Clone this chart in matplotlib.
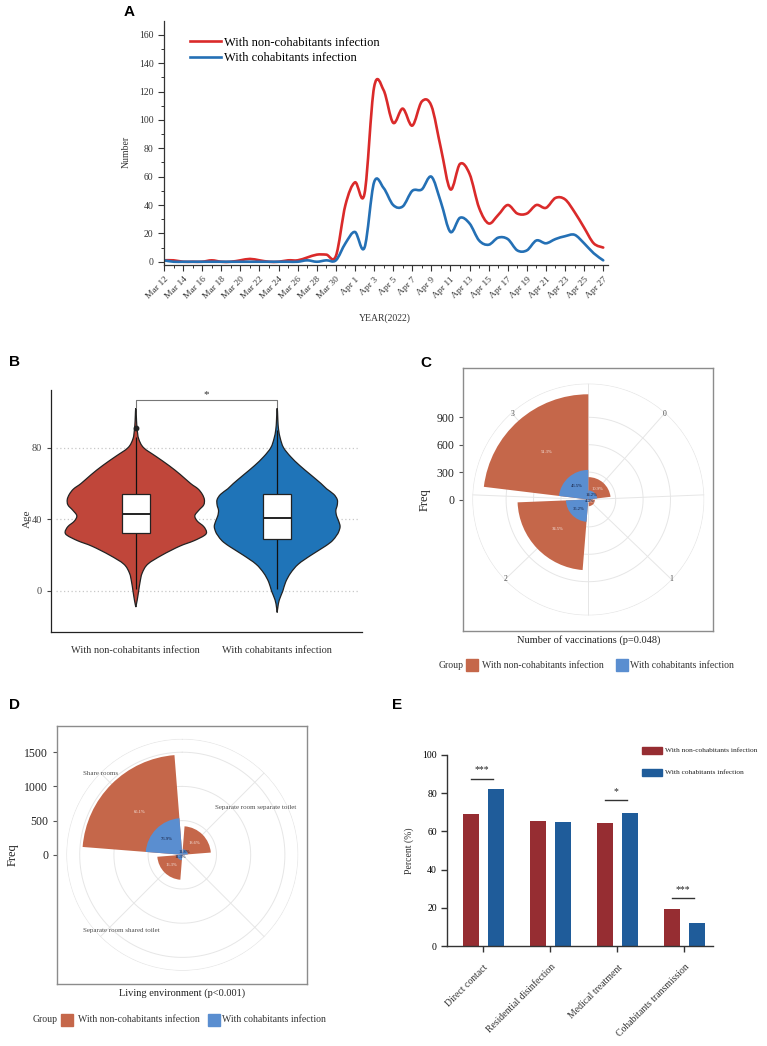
import numpy as np
import matplotlib
matplotlib.use("Agg")
import matplotlib.pyplot as plt
from matplotlib.path import Path
from matplotlib.patches import PathPatch, Rectangle
from matplotlib.lines import Line2D

SERIF = ["Liberation Serif", "DejaVu Serif"]
SANS = ["Liberation Sans", "DejaVu Sans"]
plt.rcParams["font.family"] = SERIF

# ---------------- data ----------------
dates_A = [f"Mar {d}" for d in range(12, 32)] + [f"Apr {d}" for d in range(1, 28)]
non_cohab_daily = [1, 1, 0, 0, 0, 1, 0, 0, 1, 2, 1, 0, 0, 1, 1,
                   3, 5, 5, 4, 40, 56, 48, 123, 121, 98, 108, 96, 113, 110,
                   80, 51, 69, 62, 38, 27, 33, 40, 34, 34, 40, 38, 45, 44,
                   35, 24, 13, 10]
cohab_daily = [1, 0, 0, 0, 0, 0, 0, 0, 0, 0, 0, 0, 0, 0, 0,
               1, 0, 1, 1, 13, 21, 10, 56, 52, 40, 39, 50, 51, 60,
               42, 21, 31, 27, 15, 12, 17, 16, 8, 8, 15, 13, 16, 18,
               19, 13, 6, 1]
series_names = ["With non-cohabitants infection", "With cohabitants infection"]

groups_B = ["With non-cohabitants infection", "With cohabitants infection"]
ages_nonco = [-9, -5, 0, 5, 10, 15, 20, 25, 28, 31, 33, 36, 39, 42, 45, 48, 51, 54,
              57, 60, 65, 70, 75, 80, 85, 90, 95, 100, 102]
dens_nonco = [0, 0.02, 0.04, 0.06, 0.09, 0.17, 0.37, 0.62, 0.82, 0.97, 1.0, 0.96,
              0.87, 0.835, 0.89, 0.96, 0.97, 0.94, 0.88, 0.775, 0.63, 0.47, 0.29,
              0.11, 0.04, 0.02, 0.01, 0.005, 0]
ages_co = [-12, -9, -5, 0, 5, 10, 15, 20, 25, 28, 31, 33, 36, 39, 42, 45, 48, 51,
           54, 57, 60, 65, 70, 75, 80, 85, 90, 95, 100, 102]
dens_co = [0, 0.01, 0.03, 0.08, 0.12, 0.19, 0.30, 0.48, 0.68, 0.78, 0.84, 0.87,
           0.89, 0.87, 0.84, 0.83, 0.85, 0.85, 0.80, 0.70, 0.62, 0.47, 0.32, 0.19,
           0.09, 0.045, 0.02, 0.01, 0.005, 0]
box_q1 = [32.2, 29.0]
box_med = [43.2, 41.0]
box_q3 = [54.0, 54.0]
whisk_lo = [1, 1]
whisk_hi = [86, 90]
outliers_nonco = [91]

vacc_cats = ["0", "1", "2", "3"]
vacc_nonco = [245, 74, 775, 1152]
vacc_co = [99, 29, 245, 324]

living_cats = ["Separate room separate toilet", "", "Separate room shared toilet", "Share rooms"]
living_nonco = [418, 0, 366, 1462]
living_co = [82, 0, 79, 536]

measures_E = ["Direct contact", "Residential disinfection", "Medical treatment",
              "Cohabitants transmission"]
pct_nonco = [69.0, 65.6, 64.2, 19.5]
pct_co = [82.4, 64.8, 69.6, 11.9]
sig_E = ["***", "", "*", "***"]
sig_y_E = [87.6, None, 76.4, 25.1]

# ---------------- helpers ----------------
W, H = 767, 1046
fig = plt.figure(figsize=(W / 100, H / 100), dpi=100)


def rect(l, t, r, b):
    return [l / W, 1 - b / H, (r - l) / W, (b - t) / H]


def smooth_path(xs, ys):
    pts = np.column_stack([np.asarray(xs, float), np.asarray(ys, float)])
    n = len(pts)
    verts = [pts[0]]
    codes = [Path.MOVETO]
    for i in range(n - 1):
        p0 = pts[i - 1] if i > 0 else pts[i]
        p1, p2 = pts[i], pts[i + 1]
        p3 = pts[i + 2] if i + 2 < n else pts[i + 1]
        verts += [p1 + (p2 - p0) / 6, p2 - (p3 - p1) / 6, p2]
        codes += [Path.CURVE4] * 3
    return Path(verts, codes)


def panel_letter(x, y, s):
    fig.text(x / W, 1 - y / H, s, family=SANS, weight="bold", fontsize=11,
             ha="left", va="center")


# ---------------- Panel A ----------------
axA = fig.add_axes(rect(164, 20.7, 608, 265))
days = np.arange(len(dates_A))
colA = ["#DA2A2A", "#2470B5"]
for vals, c in zip([non_cohab_daily, cohab_daily], colA):
    axA.add_patch(PathPatch(smooth_path(days, vals), fill=False, edgecolor=c,
                            lw=1.9, capstyle="round", joinstyle="round"))
axA.set_xlim(0, 46.5)
axA.set_ylim(-2.3, 170)
axA.spines[["top", "right"]].set_visible(False)
for s in ["left", "bottom"]:
    axA.spines[s].set_linewidth(0.9)
    axA.spines[s].set_color("#333333")
axA.set_yticks(np.arange(0, 161, 20))
axA.set_yticks(np.arange(0, 170, 10), minor=True)
axA.set_xticks(days[::2])
axA.set_xticklabels(dates_A[::2], rotation=45, ha="right", va="top",
                    rotation_mode="anchor", fontsize=6.8, color="#333333")
axA.set_xticks(days, minor=True)
axA.tick_params(axis="both", which="major", direction="out", length=4, width=0.8,
                color="#333333")
axA.tick_params(axis="both", which="minor", direction="out", length=2.2, width=0.7,
                color="#333333")
axA.tick_params(axis="y", labelsize=7, labelcolor="#333333")
handles = [Line2D([], [], color=c, lw=1.9) for c in colA]
axA.legend(handles, series_names, loc="upper left", bbox_to_anchor=(0.058, 0.935),
           frameon=False, fontsize=9, handlelength=2.5, handletextpad=0.25,
           labelspacing=0.3, borderpad=0, borderaxespad=0)
fig.text(126 / W, 1 - 152 / H, "Number", rotation=90, ha="center", va="center",
         fontsize=7, color="#333333")
fig.text(385 / W, 1 - 318 / H, "YEAR(2022)", ha="center", va="center",
         fontsize=7, color="#333333")
panel_letter(124, 12, "A")

# ---------------- Panel B ----------------
axB = fig.add_axes(rect(51, 390, 362, 632))
axB.set_xlim(0.4, 2.6)
axB.set_ylim(-22.9, 112.2)
for yv in [0, 40, 80]:
    axB.axhline(yv, xmin=0.015, xmax=0.99, color="#C8C8C8", lw=0.9,
                ls=(0, (1, 2)), zorder=0)
colB = ["#C0463A", "#1F74B8"]
half = 0.5
for i, (ag, dn, c) in enumerate([(ages_nonco, dens_nonco, colB[0]),
                                 (ages_co, dens_co, colB[1])]):
    cx = i + 1
    ag = np.asarray(ag, float)
    dn = np.asarray(dn, float) * half
    xs = np.concatenate([cx + dn, (cx - dn)[::-1][1:]])
    ys = np.concatenate([ag, ag[::-1][1:]])
    axB.add_patch(PathPatch(smooth_path(xs, ys), facecolor=c, edgecolor="#222222",
                            lw=0.9, zorder=2))
    axB.vlines(cx, whisk_lo[i], box_q1[i], color="#111111", lw=0.9, zorder=3)
    axB.vlines(cx, box_q3[i], whisk_hi[i], color="#111111", lw=0.9, zorder=3)
axB.bar([1, 2], np.array(box_q3) - np.array(box_q1), bottom=box_q1, width=0.2,
        color="white", edgecolor="#222222", lw=0.9, zorder=4)
axB.hlines(box_med, [0.9, 1.9], [1.1, 2.1], color="#222222", lw=1.4, zorder=5)
axB.plot([1] * len(outliers_nonco), outliers_nonco, "o", color="#222222",
         ms=3.2, zorder=5)
axB.plot([1, 1, 2, 2], [102.8, 106.6, 106.6, 102.8], color="#777777", lw=0.8,
         clip_on=False)
axB.text(1.5, 109.5, "*", ha="center", va="center", fontsize=8, color="#333333",
         clip_on=False)
axB.spines[["top", "right"]].set_visible(False)
for s in ["left", "bottom"]:
    axB.spines[s].set_linewidth(0.9)
    axB.spines[s].set_color("#222222")
axB.set_yticks([0, 40, 80])
axB.set_xticks([1, 2])
axB.set_xticklabels(groups_B, fontsize=7.5, color="#333333")
axB.tick_params(axis="y", labelsize=7.5, labelcolor="#444444", length=3,
                color="#444444")
axB.tick_params(axis="x", length=0, pad=10)
fig.text(27 / W, 1 - 519 / H, "Age", rotation=90, ha="center", va="center",
         fontsize=8, color="#333333")
panel_letter(9, 362, "B")

# ---------------- Panels C & D (rose charts) ----------------
ROSE_RED = "#C5674A"
ROSE_BLUE = "#5A8ED0"
GRID = "#E6E6E6"


def rose(frame_px, center_px, R_px, rmax, cats, nonco, co, lo, hi, rings, yticks,
         minor, label_spec, xlabel, xlabel_y, label_fs):
    l, t, r, b = frame_px
    cx, cy = center_px
    s = R_px / rmax
    axf = fig.add_axes(rect(l, t, r, b))
    axf.set_xlim(0, 1)
    axf.set_ylim((cy - b) / s, (cy - t) / s)
    axf.set_xticks([])
    axf.set_yticks(yticks)
    axf.tick_params(axis="y", labelsize=8.5, labelcolor="#222222", length=3,
                    color="#555555", width=0.8)
    for sp in axf.spines.values():
        sp.set_color("#8C8C8C")
        sp.set_linewidth(1.0)
    axf.set_ylabel("Freq", fontsize=9, color="#222222", labelpad=4)

    axp = fig.add_axes(rect(cx - R_px, cy - R_px, cx + R_px, cy + R_px),
                       projection="polar")
    axp.set_theta_zero_location("N")
    axp.set_theta_direction(-1)
    axp.set_ylim(0, rmax)
    axp.set_axis_off()
    n = len(cats)
    xpos = np.arange(1, n + 1)
    span = hi - lo
    th = (xpos - lo) / span * 2 * np.pi
    wd = 0.9 / span * 2 * np.pi
    tf = np.linspace(0, 2 * np.pi, 400)
    for rr in rings + [rmax * 0.998]:
        axp.plot(tf, np.full_like(tf, rr), color=GRID, lw=0.7, zorder=0)
    radial = list(th)
    if minor:
        radial += list((np.array([lo, 1.5, 2.5, 3.5]) - lo) / span * 2 * np.pi)
    for a in radial:
        axp.plot([a, a], [0, rmax], color=GRID, lw=0.7, zorder=0)
    for k, (cat, spec) in enumerate(zip(cats, label_spec)):
        if cat == "":
            continue
        ang, rf = spec
        a = th[k] if ang is None else np.deg2rad(ang)
        axp.text(a, rf * rmax, cat, ha="center", va="center", fontsize=label_fs,
                 color="#4D4D4D", zorder=1)
    axp.bar(th, nonco, width=wd, bottom=0, color=ROSE_RED, zorder=2,
            align="center", linewidth=0)
    axp.bar(th, co, width=wd, bottom=0, color=ROSE_BLUE, zorder=3,
            align="center", linewidth=0)
    tot_n, tot_c = sum(nonco), sum(co)
    for k in range(n):
        if nonco[k] > 0:
            axp.text(th[k], nonco[k] * 0.6 if nonco[k] > co[k] * 1.8 else nonco[k] * 0.9,
                     f"{nonco[k] / tot_n * 100:.1f}%", ha="center", va="center",
                     fontsize=3.3, color="#F4E6E0", zorder=4)
        if co[k] > 0:
            axp.text(th[k], co[k] * 0.6, f"{co[k] / tot_c * 100:.1f}%",
                     ha="center", va="center", fontsize=3.3, color="#141b3a",
                     zorder=5)
    fig.text(cx / W, 1 - xlabel_y / H, xlabel, ha="center", va="center",
             fontsize=7.5, color="#222222")


def group_legend(y, gx, sq1, t1, sq2, t2):
    fig.text(gx / W, 1 - y / H, "Group", ha="left", va="center", fontsize=7,
             color="#333333")
    for xs, c in [(sq1, ROSE_RED), (sq2, ROSE_BLUE)]:
        fig.add_artist(Rectangle((xs / W, 1 - (y + 6) / H), 12 / W, 12 / H,
                                 transform=fig.transFigure, color=c))
    fig.text(t1 / W, 1 - y / H, series_names[0], ha="left", va="center",
             fontsize=7, color="#333333")
    fig.text(t2 / W, 1 - y / H, series_names[1], ha="left", va="center",
             fontsize=7, color="#333333")


rose((463.3, 367.7, 713.3, 630.7), (588.3, 499.5), 116, 1270, vacc_cats,
     vacc_nonco, vacc_co, 0.55, 4.45, [300, 600, 900], [0, 300, 600, 900], True,
     [(None, 0.99)] * 4, "Number of vaccinations (p=0.048)", 640, 5.5)
group_legend(665, 439, 466, 482, 616, 630)
panel_letter(420, 363, "C")

rose((57.3, 725.7, 307.3, 984), (182.3, 854.8), 116, 1696, living_cats,
     living_nonco, living_co, 0.5, 4.5, [500, 1000, 1500], [0, 500, 1000, 1500],
     False, [(57, 0.75), (None, 1.0), (219, 0.836), (315, 0.995)],
     "Living environment (p<0.001)", 993, 5)
group_legend(1020, 33, 61, 78, 208, 222)
panel_letter(9, 705, "D")

# ---------------- Panel E ----------------
axE = fig.add_axes(rect(447.3, 755, 713.3, 946))
xE = np.arange(len(measures_E))
colE = ["#962D32", "#1F5C9A"]
axE.bar(xE - 0.185, pct_nonco, width=0.25, color=colE[0])
axE.bar(xE + 0.185, pct_co, width=0.25, color=colE[1])
for i, (lab, yv) in enumerate(zip(sig_E, sig_y_E)):
    if lab:
        axE.plot([i - 0.19, i + 0.14], [yv, yv], color="#333333", lw=1.0)
        axE.text(i - 0.03, yv + 2.2, lab, ha="center", va="bottom", fontsize=7,
                 color="#222222")
axE.set_xlim(-0.54, 3.43)
axE.set_ylim(0, 100)
axE.spines[["top", "right"]].set_visible(False)
for s in ["left", "bottom"]:
    axE.spines[s].set_linewidth(1.0)
    axE.spines[s].set_color("#333333")
axE.set_yticks(np.arange(0, 101, 20))
axE.set_xticks(xE)
axE.set_xticklabels(measures_E, rotation=45, ha="right", va="top",
                    rotation_mode="anchor", fontsize=7, color="#333333")
axE.tick_params(axis="both", direction="out", length=4, width=1.0, color="#333333",
                labelsize=7)
axE.tick_params(axis="x", pad=8)
fig.text(409 / W, 1 - 851 / H, "Percent (%)", rotation=90, ha="center",
         va="center", fontsize=7, color="#333333")
for k, (yy, c) in enumerate([(750.5, colE[0]), (772.5, colE[1])]):
    fig.add_artist(Rectangle((641.7 / W, 1 - (yy + 3.8) / H), 20 / W, 7.6 / H,
                             transform=fig.transFigure, color=c))
    fig.text(665 / W, 1 - yy / H, series_names[k], ha="left", va="center",
             fontsize=5.3, color="#222222")
panel_letter(392, 705, "E")

fig.savefig("out.png", dpi=100)
